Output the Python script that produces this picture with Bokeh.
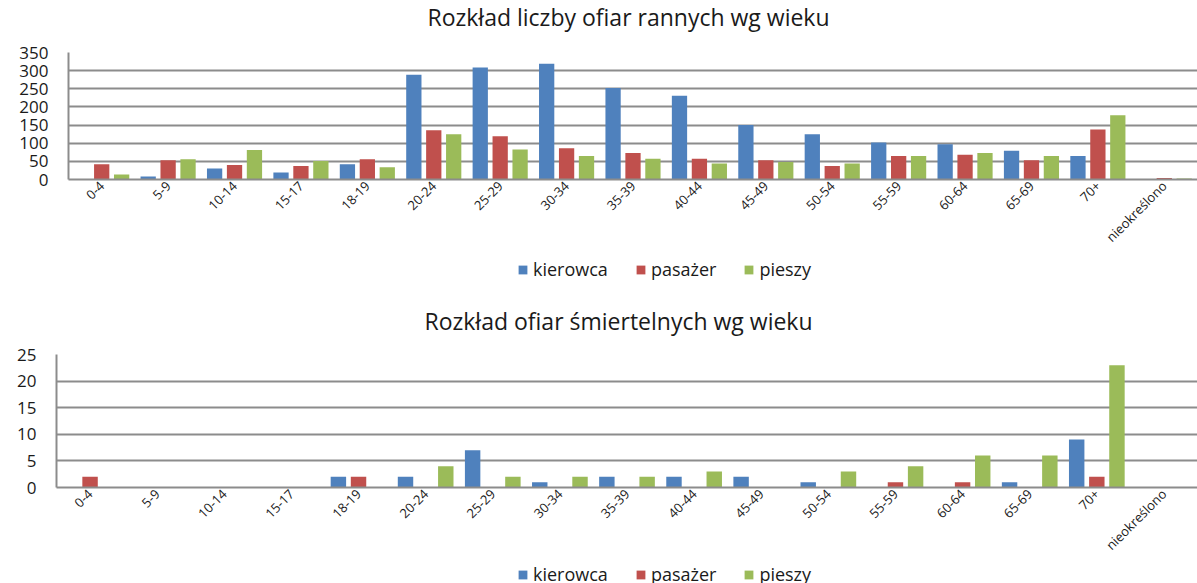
from bokeh.plotting import figure
from bokeh.models import (ColumnDataSource, FactorRange, Range1d, FixedTicker, Legend,
                          LegendItem, Label)
from bokeh.transform import dodge
from bokeh.layouts import column
from bokeh.embed import file_html
from bokeh.resources import INLINE
import math

ages = ["0-4", "5-9", "10-14", "15-17", "18-19", "20-24", "25-29", "30-34", "35-39",
        "40-44", "45-49", "50-54", "55-59", "60-64", "65-69", "70+", "nieokreślono"]
series_names = ["kierowca", "pasażer", "pieszy"]
colors = ["#4F81BD", "#C0504D", "#9BBB59"]
title_top = "Rozkład liczby ofiar rannych wg wieku"
title_bottom = "Rozkład ofiar śmiertelnych wg wieku"

injured_kierowca = [0, 8, 30, 19, 42, 289, 309, 319, 252, 231, 150, 125, 102, 97, 79, 65, 0]
injured_pasazer = [42, 53, 40, 37, 56, 136, 119, 86, 73, 57, 53, 37, 65, 68, 53, 138, 4]
injured_pieszy = [14, 56, 81, 51, 34, 125, 83, 65, 57, 44, 48, 44, 65, 73, 65, 177, 3]

killed_kierowca = [0, 0, 0, 0, 2, 2, 7, 1, 2, 2, 2, 1, 0, 0, 1, 9, 0]
killed_pasazer = [2, 0, 0, 0, 2, 0, 0, 0, 0, 0, 0, 0, 1, 1, 0, 2, 0]
killed_pieszy = [0, 0, 0, 0, 0, 4, 2, 2, 2, 3, 0, 3, 4, 6, 6, 23, 0]

FONT = "Open Sans"
GRID = "#8c8c8c"
TXT = "#1a1a1a"
W = 1197
STRIP_LEFT = 68


def make_chart(k, pa, pi, ymax, ystep, b_left, b_top, frame_h, b_bottom):
    src = ColumnDataSource(dict(age=ages, kierowca=k, pasazer=pa, pieszy=pi))
    p = figure(x_range=FactorRange(factors=ages, range_padding=0),
               y_range=Range1d(0, ymax),
               frame_width=W - b_left, frame_height=frame_h,
               output_backend="svg", toolbar_location=None,
               min_border_left=b_left, min_border_right=0,
               min_border_top=b_top, min_border_bottom=b_bottom)
    offs = [-0.3, 0.0, 0.3]
    for col, off, c in zip(["kierowca", "pasazer", "pieszy"], offs, colors):
        p.vbar(x=dodge("age", off, range=p.x_range), top=col, width=0.23,
               source=src, fill_color=c, line_color=None)
    p.outline_line_color = None
    p.xgrid.grid_line_color = None
    p.ygrid.grid_line_color = GRID
    p.ygrid.grid_line_width = 2
    p.yaxis.ticker = FixedTicker(ticks=list(range(0, ymax + 1, ystep)))
    p.yaxis.major_tick_line_color = None
    p.yaxis.major_tick_out = 0
    p.yaxis.minor_tick_line_color = None
    p.yaxis.axis_line_color = GRID
    p.yaxis.axis_line_width = 2
    p.yaxis.major_label_standoff = 20
    p.yaxis.major_label_text_font = FONT
    p.yaxis.major_label_text_font_size = "17px"
    p.yaxis.major_label_text_color = TXT
    p.xaxis.major_tick_line_color = None
    p.xaxis.major_tick_out = 0
    p.xaxis.axis_line_color = GRID
    p.xaxis.axis_line_width = 2
    p.xaxis.major_label_orientation = math.pi / 4
    p.xaxis.major_label_text_font = FONT
    p.xaxis.major_label_text_font_size = "13px"
    p.xaxis.major_label_text_color = TXT
    p.xaxis.major_label_standoff = 4
    return p


def strip(h):
    s = figure(width=W, height=h, x_range=Range1d(STRIP_LEFT, W), y_range=Range1d(h, 0),
               x_axis_type=None, y_axis_type=None, output_backend="svg",
               toolbar_location=None, min_border=0, min_border_left=STRIP_LEFT)
    s.outline_line_color = None
    s.xgrid.visible = False
    s.ygrid.visible = False
    return s


def add_title(s, text, x, y):
    s.add_layout(Label(x=x, y=y, text=text, text_font=FONT, text_font_size="23px",
                       text_color=TXT, text_align="center", text_baseline="middle"))


def add_legend(s, loc):
    nan = float("nan")
    rs = [s.vbar(x=[nan], top=[nan], width=1, fill_color=c, line_color=None) for c in colors]
    leg = Legend(items=[LegendItem(label=n, renderers=[r]) for n, r in zip(series_names, rs)],
                 orientation="horizontal", location=loc,
                 label_text_font=FONT, label_text_font_size="18px", label_text_color=TXT,
                 glyph_width=11, glyph_height=11, label_standoff=5, spacing=27,
                 border_line_color=None, background_fill_alpha=0, padding=0, margin=0)
    s.add_layout(leg)


head = strip(40)
add_title(head, title_top, 628, 16)

p1 = make_chart(injured_kierowca, injured_pasazer, injured_pieszy, 350, 50, 68, 12, 127, 77)

mid = strip(88)
add_legend(mid, (517 - STRIP_LEFT, 63))
add_title(mid, title_bottom, 618, 64)

p2 = make_chart(killed_kierowca, killed_pasazer, killed_pieszy, 25, 5, 56, 10, 133, 75)

foot = strip(21)
add_legend(foot, (517 - STRIP_LEFT, -2))

layout = column(column(head), column(p1), column(mid), column(p2), column(foot), spacing=0)
open("out.html", "w").write(file_html(layout, INLINE))
